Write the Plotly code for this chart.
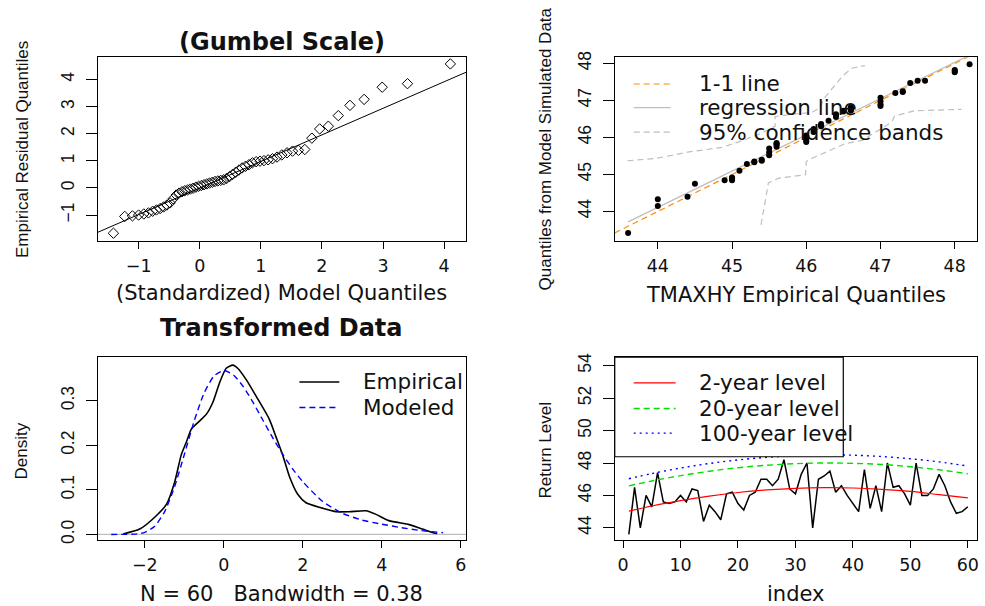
import plotly.graph_objects as go

W, H = 985, 606

# ---------------- data ----------------
index = list(range(1, 61))
tmaxhy = [43.6, 46.5, 44.0, 46.0, 45.3, 47.4, 45.6, 45.5, 45.6, 46.0,
          45.6, 46.4, 46.3, 44.4, 45.4, 45.0, 44.5, 46.1, 46.2, 45.5,
          45.1, 46.0, 46.2, 47.0, 47.0, 46.6, 47.0, 48.2, 46.4, 46.1,
          47.3, 48.0, 44.0, 47.0, 47.2, 47.5, 46.2, 46.6, 46.0, 45.5,
          45.0, 47.6, 45.2, 46.6, 45.0, 48.0, 46.5, 46.6, 46.1, 45.4,
          48.0, 46.0, 46.0, 46.4, 47.3, 46.6, 45.6, 44.9, 45.0, 45.3]

# Panel 1: Gumbel-scale QQ
gumbel_model_q = [-1.414, -1.229, -1.103, -1.002, -0.917, -0.841, -0.772, -0.709, -0.649, -0.592,
                  -0.538, -0.486, -0.436, -0.386, -0.339, -0.291, -0.245, -0.199, -0.154, -0.109,
                  -0.064, -0.020, 0.025, 0.070, 0.114, 0.159, 0.205, 0.250, 0.296, 0.343,
                  0.390, 0.438, 0.487, 0.537, 0.588, 0.640, 0.693, 0.748, 0.805, 0.863,
                  0.923, 0.986, 1.051, 1.119, 1.190, 1.265, 1.344, 1.429, 1.518, 1.615,
                  1.720, 1.835, 1.963, 2.105, 2.268, 2.459, 2.691, 2.987, 3.401, 4.103]
resid_q = [-1.67, -1.05, -1.03, -1.00, -0.96, -0.92, -0.86, -0.81, -0.76, -0.70,
           -0.63, -0.55, -0.40, -0.26, -0.19, -0.14, -0.10, -0.07, -0.04, -0.01,
           0.03, 0.06, 0.09, 0.12, 0.15, 0.18, 0.21, 0.24, 0.26, 0.28,
           0.30, 0.35, 0.42, 0.50, 0.58, 0.66, 0.74, 0.80, 0.86, 0.93,
           0.97, 0.99, 1.01, 1.04, 1.08, 1.14, 1.22, 1.30, 1.36, 1.39,
           1.42, 1.84, 2.18, 2.28, 2.67, 3.05, 3.27, 3.72, 3.85, 4.58]
qq_line_intercept = 0.0
qq_line_slope = 0.98

# Panel 2: empirical vs simulated quantiles
sim_q = [43.42, 44.15, 44.33, 44.40, 44.75, 44.84, 44.84, 44.88, 44.90, 44.92,
         45.10, 45.28, 45.33, 45.35, 45.37, 45.40, 45.52, 45.60, 45.70, 45.75,
         45.80, 45.83, 45.85, 45.88, 45.92, 45.97, 46.00, 46.03, 46.05, 46.15,
         46.20, 46.23, 46.30, 46.33, 46.36, 46.45, 46.55, 46.60, 46.63, 46.70,
         46.72, 46.73, 46.75, 46.78, 46.80, 46.81, 46.85, 46.89, 46.98, 47.07,
         47.20, 47.23, 47.25, 47.47, 47.53, 47.53, 47.76, 47.80, 47.82, 47.98]
reg_intercept = 0.99
reg_slope = 0.98
band_up_x = [43.59, 43.97, 44.42, 44.86, 45.09, 45.38, 45.58, 45.58, 45.81, 46.07, 46.19, 46.23, 46.48, 46.61, 46.79]
band_up_y = [45.37, 45.43, 45.61, 45.73, 45.88, 46.10, 46.30, 46.56, 46.63, 46.67, 46.81, 47.03, 47.64, 47.87, 47.94]
band_lo_x = [45.39, 45.49, 45.63, 45.99, 46.00, 46.07, 46.52, 46.75, 47.15, 47.19, 47.46, 47.87, 48.09]
band_lo_y = [43.64, 44.77, 44.90, 44.99, 45.35, 45.43, 45.83, 45.92, 46.41, 46.58, 46.72, 46.75, 46.76]

# Panel 3: densities
dens_emp_x = [-2.55, -2.13, -1.71, -1.45, -1.24, -1.08, -0.95, -0.82, -0.61, -0.44, -0.28, -0.11,
              0.06, 0.23, 0.35, 0.57, 0.82, 1.15, 1.32, 1.49, 1.66, 1.87, 2.08, 2.50, 2.84,
              3.17, 3.60, 3.85, 4.18, 4.69, 5.03, 5.32, 5.40]
dens_emp_y = [0.001, 0.012, 0.042, 0.068, 0.119, 0.178, 0.207, 0.237, 0.255, 0.270, 0.296, 0.340,
              0.373, 0.380, 0.373, 0.347, 0.310, 0.259, 0.219, 0.178, 0.130, 0.090, 0.071, 0.059, 0.051,
              0.051, 0.053, 0.045, 0.031, 0.022, 0.012, 0.003, 0.002]
dens_mod_x = [-2.85, -2.5, -2.25, -2.0, -1.75, -1.5, -1.25, -1.0, -0.75, -0.5, -0.25, 0.0, 0.25,
              0.5, 0.75, 1.0, 1.25, 1.5, 1.75, 2.0, 2.5, 3.0, 3.5, 4.0, 4.5, 5.0, 5.55]
dens_mod_y = [0.000, 0.0001, 0.0007, 0.0046, 0.0182, 0.0507, 0.1064, 0.1794, 0.2549, 0.3170, 0.3556,
              0.3679, 0.3574, 0.3307, 0.2945, 0.2546, 0.2151, 0.1785, 0.1460, 0.1182, 0.0740, 0.0474,
              0.0320, 0.0230, 0.0150, 0.0085, 0.0040]
n_obs = 60
bandwidth = 0.38

# Panel 4: return levels
rl_index = [1, 5, 10, 15, 20, 25, 30, 35, 40, 45, 50, 55, 60]
rl_2yr = [45.03, 45.35, 45.68, 45.96, 46.18, 46.34, 46.44, 46.48, 46.46, 46.38, 46.25, 46.05, 45.85]
rl_20yr = [46.59, 46.89, 47.22, 47.49, 47.71, 47.86, 47.96, 48.00, 47.98, 47.91, 47.77, 47.58, 47.34]
rl_100yr = [47.03, 47.35, 47.69, 47.97, 48.19, 48.35, 48.46, 48.50, 48.48, 48.40, 48.26, 48.07, 47.81]

# tick values
t1x = [-1, 0, 1, 2, 3, 4]; t1y = [-1, 0, 1, 2, 3, 4]
t2x = [44, 45, 46, 47, 48]; t2y = [44, 45, 46, 47, 48]
t3x = [-2, 0, 2, 4, 6];    t3y = [0.0, 0.1, 0.2, 0.3]
t4x = [0, 10, 20, 30, 40, 50, 60]; t4y = [44, 46, 48, 50, 52, 54]

# ---------------- layout geometry ----------------
def px(x): return x / W
def py(y): return 1 - y / H

XL = [px(98), px(467)]
XR = [px(616), px(979)]
YT = [py(239), py(52)]
YB = [py(543), py(357)]

R1x = [-1.67, 4.36]; R1y = [-1.96, 4.83]
R2x = [43.42, 48.30]; R2y = [43.20, 48.17]
R3x = [-3.19, 6.13]; R3y = [-0.0126, 0.398]
R4x = [-1.45, 61.6]; R4y = [43.25, 54.53]

HFONT = "DejaVu Sans"
VFONT = "Liberation Sans"
TXT = "#111111"

fig = go.Figure()

# Panel 1
fig.add_trace(go.Scatter(x=gumbel_model_q, y=resid_q, mode="markers", xaxis="x", yaxis="y",
                         marker=dict(symbol="diamond-open", size=8, color="black", line=dict(width=1))))
fig.add_trace(go.Scatter(x=R1x, y=[qq_line_intercept + qq_line_slope * v for v in R1x], mode="lines",
                         xaxis="x", yaxis="y", line=dict(color="black", width=1)))

# Panel 2
emp_sorted = sorted(tmaxhy)
fig.add_trace(go.Scatter(x=R2x, y=R2x, mode="lines", xaxis="x2", yaxis="y2",
                         line=dict(color="#FF8C00", width=1.2, dash="6px,4px")))
fig.add_trace(go.Scatter(x=[emp_sorted[0], emp_sorted[-1]],
                         y=[reg_intercept + reg_slope * emp_sorted[0], reg_intercept + reg_slope * emp_sorted[-1]],
                         mode="lines", xaxis="x2", yaxis="y2", line=dict(color="#BEBEBE", width=1.2)))
fig.add_trace(go.Scatter(x=band_up_x, y=band_up_y, mode="lines", xaxis="x2", yaxis="y2",
                         line=dict(color="#BEBEBE", width=1.2, dash="6px,4px")))
fig.add_trace(go.Scatter(x=band_lo_x, y=band_lo_y, mode="lines", xaxis="x2", yaxis="y2",
                         line=dict(color="#BEBEBE", width=1.2, dash="6px,4px")))
fig.add_trace(go.Scatter(x=emp_sorted, y=sim_q, mode="markers", xaxis="x2", yaxis="y2",
                         marker=dict(symbol="circle", size=6, color="black")))

# Panel 3
fig.add_trace(go.Scatter(x=R3x, y=[0, 0], mode="lines", xaxis="x3", yaxis="y3",
                         line=dict(color="#BEBEBE", width=1.2)))
fig.add_trace(go.Scatter(x=dens_emp_x, y=dens_emp_y, mode="lines", xaxis="x3", yaxis="y3",
                         line=dict(color="black", width=1.6, shape="spline", smoothing=0.6)))
fig.add_trace(go.Scatter(x=dens_mod_x, y=dens_mod_y, mode="lines", xaxis="x3", yaxis="y3",
                         line=dict(color="#0000FF", width=1.4, dash="6px,4px", shape="spline", smoothing=0.6)))

# Panel 4
fig.add_trace(go.Scatter(x=index, y=tmaxhy, mode="lines", xaxis="x4", yaxis="y4",
                         line=dict(color="black", width=1.5)))
fig.add_trace(go.Scatter(x=rl_index, y=rl_2yr, mode="lines", xaxis="x4", yaxis="y4",
                         line=dict(color="#FF0000", width=1.2, shape="spline")))
fig.add_trace(go.Scatter(x=rl_index, y=rl_20yr, mode="lines", xaxis="x4", yaxis="y4",
                         line=dict(color="#00E000", width=1.4, dash="6px,4px", shape="spline")))
fig.add_trace(go.Scatter(x=rl_index, y=rl_100yr, mode="lines", xaxis="x4", yaxis="y4",
                         line=dict(color="#0000FF", width=1.4, dash="2px,4px", shape="spline")))


def xaxis(dom, anchor, rng, ticks):
    return dict(domain=dom, anchor=anchor, range=rng, tickmode="array", tickvals=ticks,
                showline=True, linecolor="black", linewidth=1.2, mirror=True,
                ticks="outside", ticklen=7, tickwidth=1.2, tickcolor="black",
                showgrid=False, zeroline=False, ticklabelstandoff=2,
                tickfont=dict(family=HFONT, size=17.5, color=TXT))


def yaxis(dom, anchor, rng, ticks, fmt=None):
    d = dict(domain=dom, anchor=anchor, range=rng, tickmode="array", tickvals=ticks,
             showline=True, linecolor="black", linewidth=1.2, mirror=True,
             ticks="outside", ticklen=11, tickwidth=1.2, tickcolor="black",
             showgrid=False, zeroline=False, tickangle=-90, ticklabelstandoff=5,
             tickfont=dict(family=VFONT, size=17.5, color=TXT))
    if fmt:
        d["tickformat"] = fmt
    return d


shapes = []
annotations = []


def ann(text, x, y, size, family=HFONT, angle=0, xanchor="center"):
    annotations.append(dict(text=text, x=px(x), y=py(y), xref="paper", yref="paper",
                            showarrow=False, xanchor=xanchor, yanchor="middle", textangle=angle,
                            font=dict(family=family, size=size, color=TXT)))


# titles & axis titles
ann("<b>(Gumbel Scale)</b>", 282.5, 37, 24)
ann("<b>Transformed Data</b>", 282.5, 327, 24)
ann("(Standardized) Model Quantiles", 282.5, 292, 21)
ann("TMAXHY Empirical Quantiles", 797.5, 294, 21)
ann(f"N = {n_obs}\u00a0\u00a0\u00a0Bandwidth = {bandwidth}", 282.5, 598, 21)
ann("index", 797.5, 598, 21)
ann("Empirical Residual Quantiles", 22, 145.5, 17, VFONT, -90)
ann("Quantiles from Model Simulated Data", 547, 145, 17, VFONT, -90)
ann("Density", 22, 452, 17, VFONT, -90)
ann("Return Level", 547, 452, 17, VFONT, -90)


def leg_line(x0, x1, y, color, width, dash):
    shapes.append(dict(type="line", xref="paper", yref="paper", x0=px(x0), x1=px(x1), y0=py(y), y1=py(y),
                       line=dict(color=color, width=width, dash=dash), layer="above"))


# top-right legend (no box)
leg_line(635, 672, 79.3, "#FF8C00", 1.2, "6px,4px")
leg_line(635, 672, 103.3, "#BEBEBE", 1.2, "solid")
leg_line(635, 672, 128.3, "#BEBEBE", 1.2, "6px,4px")
ann("1-1 line", 698, 79.3, 21.5, xanchor="left")
ann("regression line", 698, 103.3, 21.5, xanchor="left")
ann("95% confidence bands", 698, 128.3, 21.5, xanchor="left")

# bottom-left legend (no box)
leg_line(300, 340, 382.3, "black", 1.5, "solid")
leg_line(300, 340, 408.3, "#0000FF", 1.4, "6px,4px")
ann("Empirical", 361.7, 382.3, 21.5, xanchor="left")
ann("Modeled", 361.7, 408.3, 21.5, xanchor="left")

# bottom-right legend (boxed)
shapes.append(dict(type="rect", xref="paper", yref="paper", x0=px(616), x1=px(845), y0=py(458.3), y1=py(357),
                   fillcolor="white", line=dict(color="black", width=1.2), layer="above"))
leg_line(635, 677, 383.3, "#FF0000", 1.2, "solid")
leg_line(635, 677, 409.3, "#00E000", 1.4, "6px,4px")
leg_line(635, 677, 434.3, "#0000FF", 1.4, "2px,4px")
ann("2-year level", 698, 383.3, 21.5, xanchor="left")
ann("20-year level", 698, 409.3, 21.5, xanchor="left")
ann("100-year level", 698, 434.3, 21.5, xanchor="left")

fig.update_layout(
    width=W, height=H, margin=dict(l=0, r=0, t=0, b=0),
    paper_bgcolor="white", plot_bgcolor="white", showlegend=False,
    xaxis=xaxis(XL, "y", R1x, t1x), yaxis=yaxis(YT, "x", R1y, t1y),
    xaxis2=xaxis(XR, "y2", R2x, t2x), yaxis2=yaxis(YT, "x2", R2y, t2y),
    xaxis3=xaxis(XL, "y3", R3x, t3x), yaxis3=yaxis(YB, "x3", R3y, t3y, ".1f"),
    xaxis4=xaxis(XR, "y4", R4x, t4x), yaxis4=yaxis(YB, "x4", R4y, t4y),
    shapes=shapes, annotations=annotations,
)

fig.write_html("out.html")
